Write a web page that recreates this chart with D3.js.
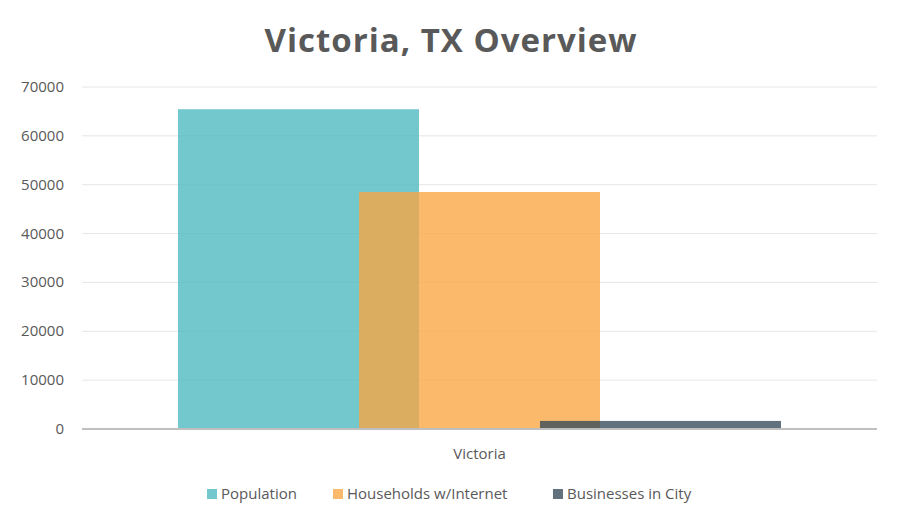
<!DOCTYPE html>
<html>
<head>
<script src="https://d3js.org/d3.v7.min.js"></script>
<style>
  body { margin: 0; background: #fff; font-family: "Open Sans", "Noto Sans", sans-serif; }
  text { fill: #595959; }
</style>
</head>
<body>
<script>
const categories = ['Victoria']
const seriesNames = ['Population', 'Households w/Internet', 'Businesses in City']
const seriesValues = [65450, 48500, 1650]
const seriesColors = ['#4bb9c0', '#f9a541', '#34495a']
const yTicks = [0, 10000, 20000, 30000, 40000, 50000, 60000, 70000]

const W = 902, H = 527
const margin = {top: 87, right: 25, bottom: 98, left: 82}
const width = W - margin.left - margin.right
const height = H - margin.top - margin.bottom

const svg = d3.select('body').append('svg')
  .attr('width', W).attr('height', H)

svg.append('text')
  .attr('x', W / 2).attr('y', 52)
  .attr('text-anchor', 'middle')
  .style('font-size', '33px').style('font-weight', 'bold')
  .style('letter-spacing', '1px')
  .text('Victoria, TX Overview')

const g = svg.append('g').attr('transform', 'translate(' + margin.left + ',' + margin.top + ')')

const y = d3.scaleLinear().domain([0, 70000]).range([height, 0])
const x = d3.scaleBand().domain(categories).range([0, width])

// gridlines
g.selectAll('.grid').data(yTicks.slice(1)).enter().append('line')
  .attr('x1', 0).attr('x2', width)
  .attr('y1', d => y(d)).attr('y2', d => y(d))
  .style('stroke', '#e6e6e6')

// y tick labels
g.selectAll('.ylab').data(yTicks).enter().append('text')
  .attr('x', -18).attr('y', d => y(d) + 5)
  .attr('text-anchor', 'end')
  .style('font-size', '15px')
  .text(d => d)

// bars: width 241, step 181 (overlapping)
const barW = 241, step = 181
const groupW = barW + step * (seriesValues.length - 1)
const x0 = x(categories[0]) + (x.bandwidth() - groupW) / 2
const bx = d3.scaleLinear().domain([0, 1]).range([x0, x0 + step])

g.selectAll('.bar').data(seriesValues).enter().append('rect')
  .attr('x', (d, i) => bx(i))
  .attr('y', d => y(d))
  .attr('width', barW)
  .attr('height', d => height - y(d))
  .style('fill', (d, i) => seriesColors[i])
  .style('opacity', 0.78)

// x axis line
g.append('line')
  .attr('x1', 0).attr('x2', width)
  .attr('y1', height).attr('y2', height)
  .style('stroke', '#bfbfbf').style('stroke-width', 2)

g.append('text')
  .attr('x', x(categories[0]) + x.bandwidth() / 2).attr('y', height + 30)
  .attr('text-anchor', 'middle')
  .style('font-size', '15px')
  .text(categories[0])

// legend
const legendX = [207, 333, 553]
const legend = svg.append('g')
seriesNames.forEach((n, i) => {
  legend.append('rect')
    .attr('x', legendX[i]).attr('y', 489)
    .attr('width', 10).attr('height', 10)
    .style('fill', seriesColors[i]).style('opacity', 0.78)
  legend.append('text')
    .attr('x', legendX[i] + 14).attr('y', 499)
    .style('font-size', '15px')
    .text(n)
})
</script>
</body>
</html>
